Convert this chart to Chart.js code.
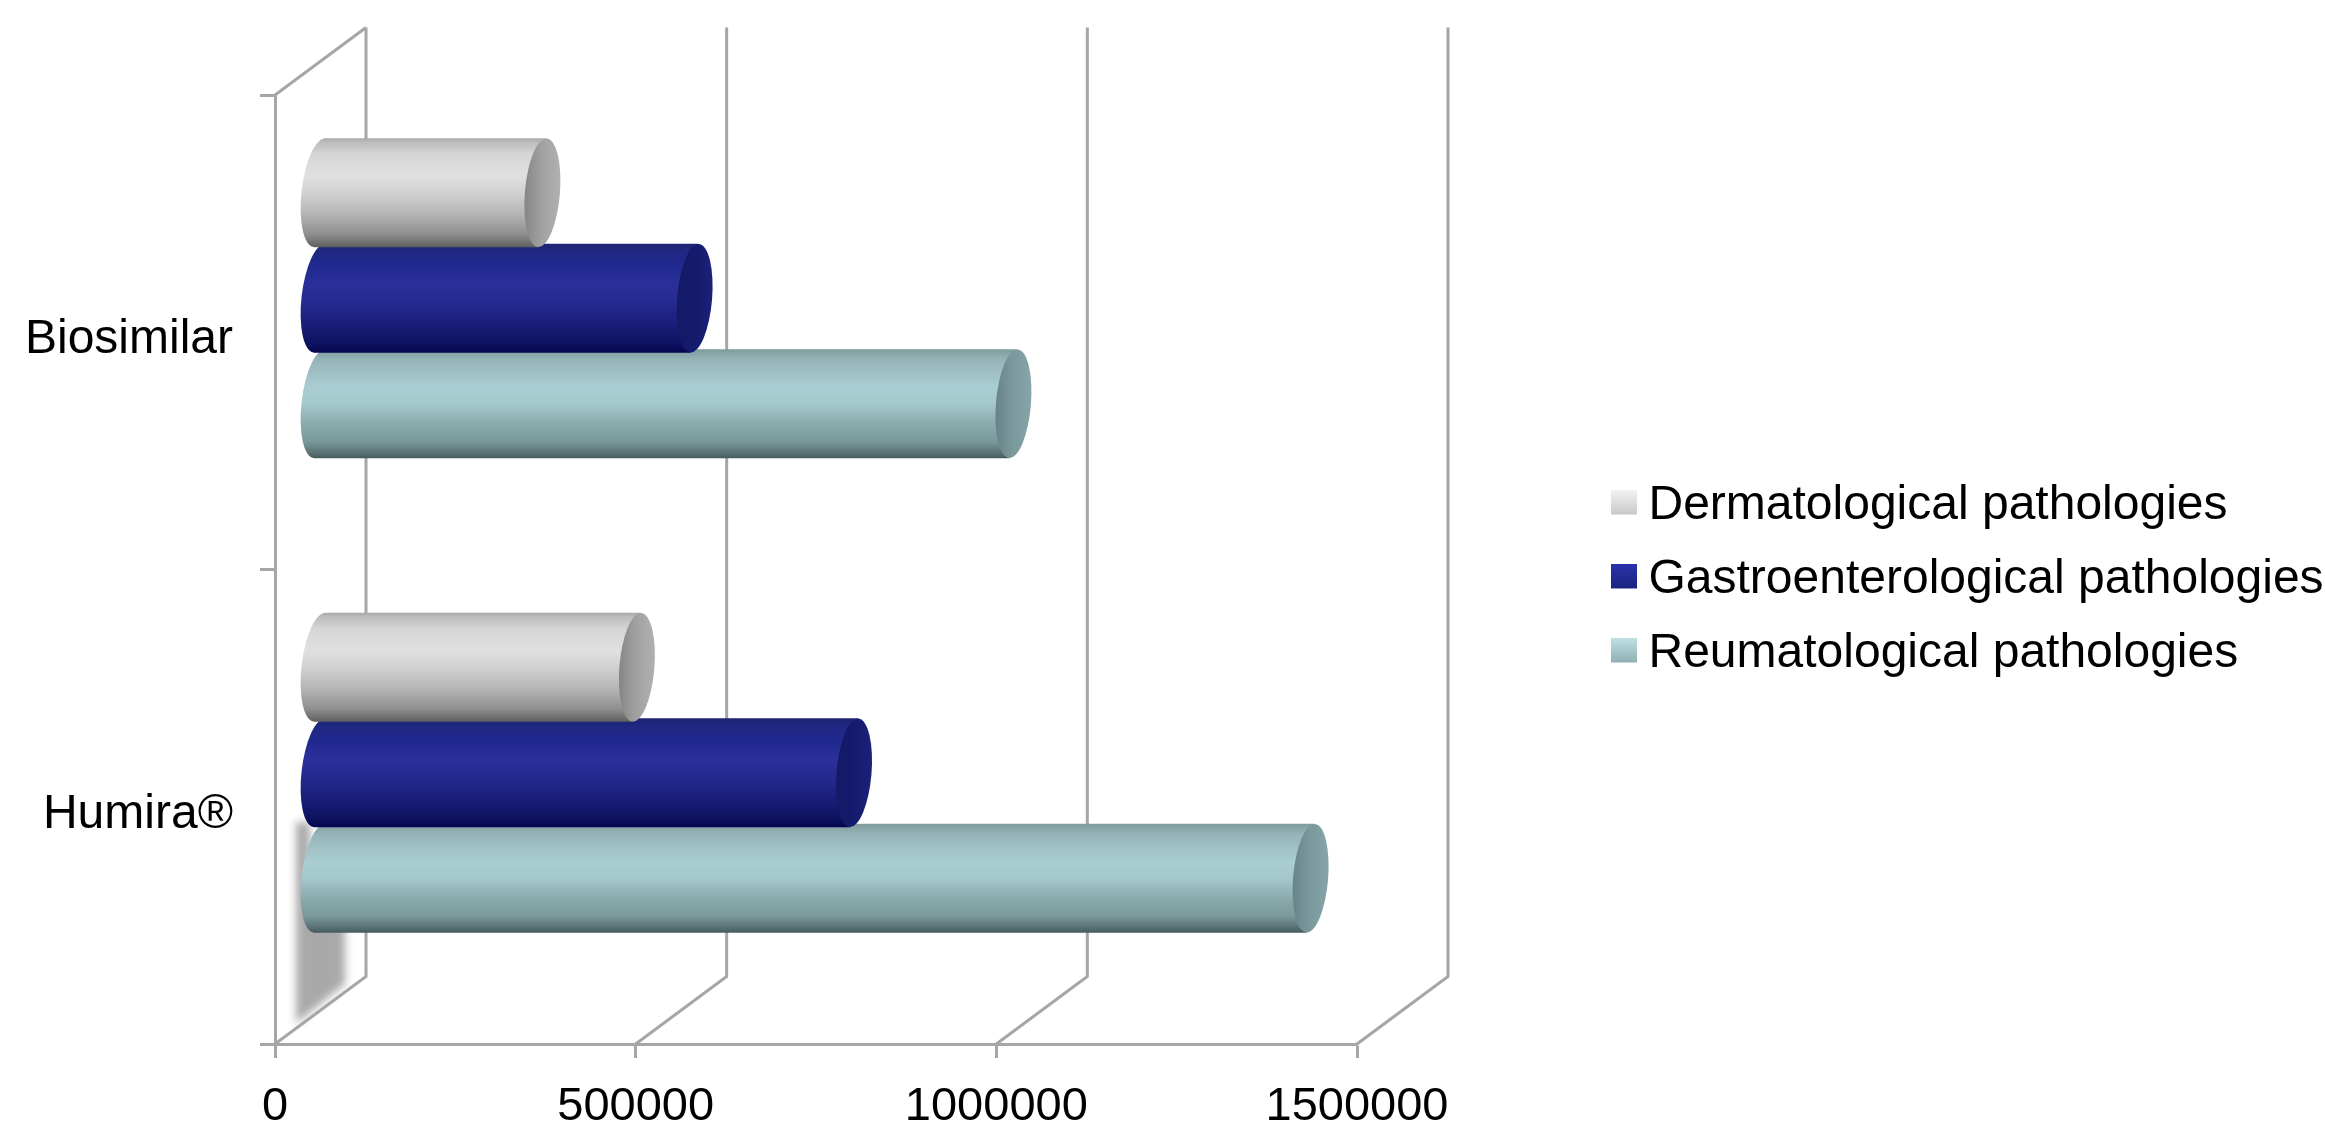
<!DOCTYPE html>
<html>
<head>
<meta charset="utf-8">
<style>html,body{margin:0;padding:0;background:#fff}canvas{display:block}</style>
<script src="https://cdn.jsdelivr.net/npm/chart.js@4/dist/chart.umd.min.js"></script>
</head>
<body>
<canvas id="c" width="2325" height="1123" style="width:2325px;height:1123px"></canvas>
<script>
const categories = ['Biosimilar', 'Humira\u00AE'];
const seriesNames = ['Dermatological pathologies', 'Gastroenterological pathologies', 'Reumatological pathologies'];
const dermatological = [309000, 440000];
const gastroenterological = [520000, 741000];
const reumatological = [962000, 1374000];
const seriesColors = ['#d9d9d9', '#232a8d', '#a9cdd2'];
const FONT = '"Liberation Sans", Arial, sans-serif';
const AXIS = '#a6a6a6';
const DEPTH = {x: 91, y: -67.5};        // 3D wall offset from the front plane
const MID = {x: 44.5, y: -34};          // bars sit half way into the 3D depth

const bodyStops = {
  '#d9d9d9': [[0,'#a9a9a9'],[.04,'#bdbdbd'],[.15,'#d6d6d6'],[.35,'#e0e0e0'],[.5,'#d2d2d2'],[.7,'#b4b4b4'],[.88,'#8f8f8f'],[1,'#5f5f5f']],
  '#232a8d': [[0,'#1e2476'],[.08,'#1f2882'],[.2,'#20298f'],[.38,'#2b2f9b'],[.55,'#232a8d'],[.75,'#191d78'],[.9,'#0f1362'],[1,'#03054d']],
  '#a9cdd2': [[0,'#7e9a9c'],[.1,'#97b5b8'],[.35,'#a9cdd2'],[.5,'#a5c8cc'],[.68,'#8cabad'],[.85,'#78989a'],[.95,'#5a7274'],[1,'#465a5c']]
};
const capStops = {
  '#d9d9d9': ['#868686','#a0a0a0','#b0b0b0'],
  '#232a8d': ['#131a66','#141a6b','#1a2178'],
  '#a9cdd2': ['#688488','#7a989c','#85a5a8']
};
const swatchStops = {
  '#d9d9d9': ['#f4f4f4','#c8c8c8'],
  '#232a8d': ['#2b33ad','#1c2480'],
  '#a9cdd2': ['#c0e2e5','#8fb0b2']
};

// Bars are drawn as cylinders: same element, same scale geometry, different paint.
Chart.BarElement.prototype.draw = function (ctx) {
  const {x, y, base, height} = this.getProps(['x', 'y', 'base', 'height'], false);
  const key = this.options.backgroundColor;
  const ry = height / 2, rx = 17.5, tilt = 0.082, sx = 4;
  const g = ctx.createLinearGradient(0, y - ry, 0, y + ry);
  bodyStops[key].forEach(s => g.addColorStop(s[0], s[1]));
  ctx.save();
  ctx.fillStyle = g;
  ctx.beginPath();
  ctx.ellipse(base - 0.5, y, rx + 0.5, ry, tilt + 0.03, 0, Math.PI * 2);
  ctx.fill();
  ctx.beginPath();
  ctx.moveTo(base + sx, y - ry);
  ctx.lineTo(x + sx, y - ry);
  ctx.lineTo(x - sx, y + ry);
  ctx.lineTo(base - sx - 2, y + ry);
  ctx.closePath();
  ctx.fill();
  const c = ctx.createLinearGradient(x - rx, 0, x + rx, 0);
  const cs = capStops[key];
  c.addColorStop(0, cs[0]); c.addColorStop(.45, cs[1]); c.addColorStop(1, cs[2]);
  ctx.fillStyle = c;
  ctx.beginPath();
  ctx.ellipse(x, y, rx, ry, tilt, 0, Math.PI * 2);
  ctx.fill();
  ctx.restore();
};

function swatch(key) {
  const cv = document.createElement('canvas');
  cv.width = 26; cv.height = 33;
  const cx = cv.getContext('2d');
  const g = cx.createLinearGradient(0, 0, 0, 25);
  g.addColorStop(0, swatchStops[key][0]);
  g.addColorStop(1, swatchStops[key][1]);
  cx.fillStyle = g;
  cx.fillRect(0, 0, 26, 25);
  return cv;
}

const walls = {
  id: 'walls',
  beforeDatasetsDraw(chart) {
    const {ctx, scales: {x}, chartArea: a} = chart;
    ctx.save();
    ctx.strokeStyle = AXIS;
    ctx.lineWidth = 3;
    x.ticks.forEach(t => {
      const px = x.getPixelForValue(t.value);
      ctx.beginPath();
      ctx.moveTo(px, a.bottom);
      ctx.lineTo(px + DEPTH.x, a.bottom + DEPTH.y);
      ctx.lineTo(px + DEPTH.x, a.top + DEPTH.y);
      ctx.stroke();
    });
    const p0 = x.getPixelForValue(0);
    ctx.beginPath();
    ctx.moveTo(p0, a.top);
    ctx.lineTo(p0 + DEPTH.x, a.top + DEPTH.y);
    ctx.stroke();
    // soft grey smudge on the floor behind the lowest bar
    ctx.filter = 'blur(4px)';
    ctx.fillStyle = '#a9a9a9';
    ctx.beginPath();
    ctx.moveTo(p0 + 21, a.bottom - 222);
    ctx.lineTo(p0 + 35, a.bottom - 222);
    ctx.lineTo(p0 + 35, a.bottom - 130);
    ctx.lineTo(p0 + 70, a.bottom - 130);
    ctx.lineTo(p0 + 70, a.bottom - 60);
    ctx.lineTo(p0 + 21, a.bottom - 20);
    ctx.closePath();
    ctx.fill();
    ctx.restore();
    // step the bars half way into the depth of the 3D frame
    ctx.save();
    ctx.translate(MID.x, MID.y);
  },
  afterDatasetsDraw(chart) { chart.ctx.restore(); },
  afterLayout(chart) {
    const l = chart.legend;
    l.left = 1597.5; l.right = chart.width;
    l.top = 456; l.bottom = chart.height;
  }
};

new Chart(document.getElementById('c'), {
  type: 'bar',
  plugins: [walls],
  data: {
    labels: categories,
    datasets: [
      {label: seriesNames[0], data: dermatological, backgroundColor: seriesColors[0]},
      {label: seriesNames[1], data: gastroenterological, backgroundColor: seriesColors[1]},
      {label: seriesNames[2], data: reumatological, backgroundColor: seriesColors[2]}
    ]
  },
  options: {
    indexAxis: 'y',
    responsive: false,
    animation: false,
    events: [],
    devicePixelRatio: 1,
    layout: {padding: {top: 95, left: 0, right: 0, bottom: 0}},
    datasets: {bar: {categoryPercentage: 0.667, barPercentage: 1.033, clip: false}},
    scales: {
      x: {
        type: 'linear', min: 0, max: 1500000,
        afterFit(s) { s.height = 79; s.paddingRight = 968; },
        border: {color: AXIS, width: 3},
        grid: {drawOnChartArea: false, drawTicks: true, tickLength: 14, tickColor: AXIS, tickWidth: 3},
        ticks: {stepSize: 500000, maxRotation: 0, autoSkip: false, padding: 21, color: '#000',
                font: {family: FONT, size: 47}, callback: v => String(v)}
      },
      y: {
        afterFit(s) { s.width = 275; },
        border: {color: AXIS, width: 3},
        grid: {drawOnChartArea: false, tickLength: 15, tickColor: AXIS, tickWidth: 3},
        ticks: {padding: 27, labelOffset: 8, color: '#000', font: {family: FONT, size: 48}}
      }
    },
    plugins: {
      title: {display: false},
      tooltip: {enabled: false},
      legend: {
        display: true, position: 'right', align: 'start',
        labels: {
          usePointStyle: true, pointStyleWidth: 1, padding: 26, color: '#000',
          font: {family: FONT, size: 48},
          generateLabels: () => seriesNames.map((n, i) => ({
            text: n, datasetIndex: i, hidden: false, lineWidth: 0,
            fillStyle: seriesColors[i], strokeStyle: seriesColors[i],
            pointStyle: swatch(seriesColors[i])
          }))
        }
      }
    }
  }
});
</script>
</body>
</html>
